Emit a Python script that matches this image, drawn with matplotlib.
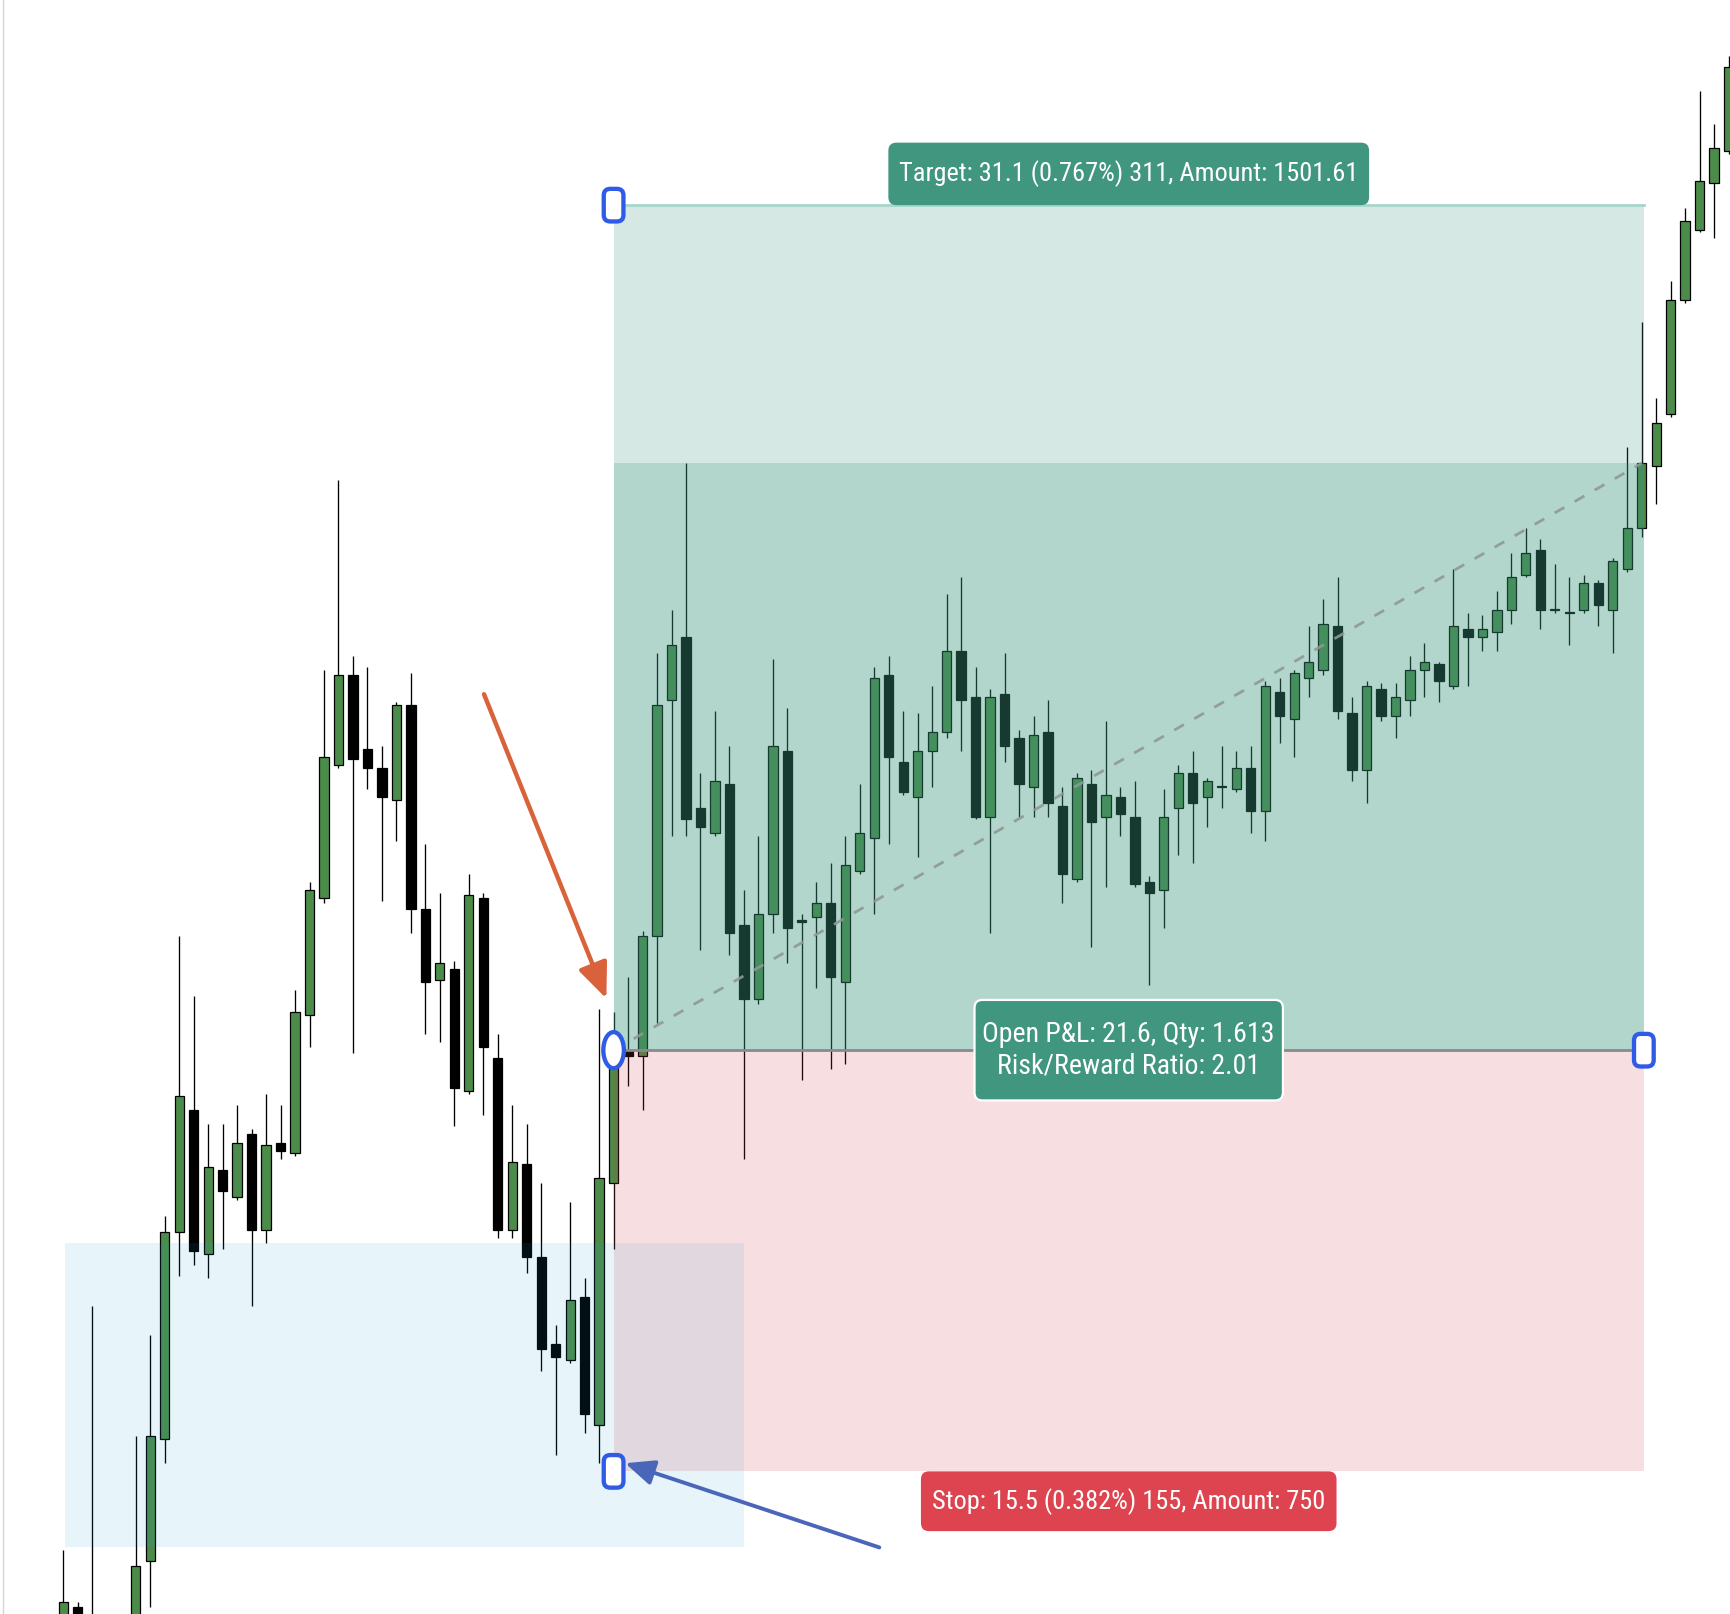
import numpy as np
import matplotlib.pyplot as plt
from matplotlib.patches import Rectangle, FancyBboxPatch, Ellipse

# ---------------- data ----------------
opens = [4033.6, 4034.5, 4032.8, 4031.5, 4032.3, 4033.2, 4036.2, 4040.7, 4048.3, 4052.8,
         4047.5, 4050.6, 4049.6, 4051.9, 4048.4, 4051.6, 4051.2, 4056.3, 4060.6, 4065.5,
         4068.8, 4066.1, 4065.4, 4064.2, 4067.7, 4060.2, 4057.6, 4058.0, 4053.5, 4060.6,
         4054.7, 4048.4, 4050.8, 4047.4, 4044.2, 4043.6, 4045.9, 4041.2, 4050.1, 4055.0,
         4054.8, 4059.2, 4067.9, 4070.2, 4063.9, 4063.0, 4064.8, 4059.6, 4056.9, 4060.0,
         4066.0, 4059.8, 4059.9, 4060.4, 4057.5, 4061.6, 4062.8, 4068.8, 4065.6, 4064.3,
         4066.0, 4066.7, 4069.7, 4068.0, 4063.6, 4068.1, 4066.5, 4064.7, 4066.7, 4064.0,
         4061.3, 4064.8, 4063.6, 4064.3, 4063.6, 4061.2, 4060.9, 4063.9, 4065.2, 4064.3,
         4064.7, 4064.6, 4065.4, 4063.8, 4068.2, 4067.2, 4068.7, 4069.0, 4070.6, 4067.4,
         4065.3, 4068.3, 4067.3, 4067.9, 4069.0, 4069.2, 4068.4, 4070.5, 4070.2, 4070.4,
         4071.2, 4072.5, 4073.4, 4071.2, 4071.1, 4071.2, 4072.2, 4071.2, 4072.7, 4074.2,
         4076.5, 4078.4, 4082.6, 4085.2, 4086.9, 4088.1]
highs = [4036.6, 4034.7, 4045.6, 4033.6, 4034.0, 4040.8, 4044.5, 4048.9, 4059.2, 4057.0,
         4052.3, 4052.3, 4053.0, 4052.1, 4053.4, 4053.0, 4057.2, 4061.2, 4069.0, 4076.0,
         4069.5, 4069.1, 4066.2, 4067.8, 4068.9, 4062.6, 4060.8, 4058.3, 4061.5, 4060.8,
         4055.6, 4053.0, 4052.3, 4050.1, 4044.9, 4049.4, 4046.6, 4056.5, 4056.4, 4057.7,
         4059.4, 4069.6, 4071.2, 4076.6, 4065.2, 4067.5, 4066.2, 4060.9, 4062.9, 4069.4,
         4067.6, 4060.0, 4061.2, 4061.9, 4062.9, 4064.8, 4069.1, 4069.5, 4067.5, 4067.4,
         4068.4, 4071.8, 4072.4, 4069.1, 4068.3, 4069.6, 4066.8, 4067.3, 4067.9, 4064.7,
         4065.2, 4065.3, 4067.1, 4064.7, 4064.9, 4061.4, 4064.6, 4065.5, 4066.0, 4065.0,
         4066.2, 4066.0, 4066.2, 4068.6, 4068.7, 4069.0, 4070.6, 4071.6, 4072.4, 4068.0,
         4068.6, 4068.5, 4068.5, 4069.5, 4070.0, 4069.3, 4072.7, 4071.1, 4071.0, 4071.9,
         4073.3, 4074.2, 4073.8, 4072.9, 4072.4, 4072.5, 4072.3, 4073.1, 4077.2, 4081.8,
         4079.0, 4083.3, 4086.0, 4090.3, 4089.1, 4091.6]
lows = [4033.2, 4033.8, 4032.3, 4031.1, 4031.9, 4032.8, 4034.5, 4039.8, 4046.7, 4047.1,
        4046.6, 4047.7, 4049.5, 4045.6, 4047.9, 4051.0, 4051.1, 4055.1, 4060.4, 4065.4,
        4054.9, 4064.6, 4060.5, 4062.7, 4059.3, 4055.6, 4055.3, 4052.2, 4053.4, 4052.6,
        4048.1, 4048.1, 4046.8, 4043.2, 4040.1, 4043.5, 4040.9, 4039.8, 4047.7, 4053.7,
        4052.8, 4056.0, 4062.9, 4062.9, 4058.7, 4062.9, 4058.5, 4051.0, 4056.7, 4059.3,
        4058.2, 4053.9, 4057.3, 4054.3, 4054.5, 4061.5, 4060.0, 4062.6, 4064.4, 4062.1,
        4064.7, 4066.5, 4066.0, 4063.5, 4059.3, 4065.6, 4063.6, 4063.6, 4063.6, 4060.4,
        4061.2, 4058.8, 4061.0, 4062.9, 4061.0, 4057.4, 4059.5, 4062.2, 4061.9, 4063.2,
        4063.9, 4064.5, 4063.0, 4062.7, 4066.3, 4065.8, 4068.0, 4068.8, 4067.2, 4064.9,
        4064.1, 4067.1, 4066.5, 4067.3, 4068.0, 4067.8, 4068.3, 4068.4, 4069.7, 4069.7,
        4070.7, 4072.4, 4070.5, 4071.1, 4069.9, 4071.1, 4070.6, 4069.6, 4072.6, 4073.9,
        4075.1, 4078.3, 4082.5, 4085.1, 4084.9, 4088.0]
closes = [4034.7, 4034.3, 4033.8, 4032.3, 4033.2, 4036.0, 4040.8, 4048.3, 4053.3, 4047.6,
          4050.7, 4049.8, 4051.6, 4048.4, 4051.5, 4051.3, 4056.4, 4060.9, 4065.8, 4068.8,
          4065.7, 4065.4, 4064.3, 4067.7, 4060.2, 4057.5, 4058.2, 4053.6, 4060.7, 4055.1,
          4048.4, 4050.9, 4047.4, 4044.0, 4043.7, 4045.8, 4041.6, 4050.3, 4055.0, 4054.8,
          4059.2, 4067.7, 4069.9, 4063.5, 4063.2, 4064.9, 4059.3, 4056.9, 4060.0, 4066.2,
          4059.5, 4059.7, 4060.4, 4057.7, 4061.8, 4063.0, 4068.7, 4065.8, 4064.5, 4066.0,
          4066.7, 4069.7, 4067.9, 4063.6, 4068.0, 4066.2, 4064.8, 4066.6, 4064.1, 4061.5,
          4065.0, 4063.4, 4064.4, 4063.7, 4061.1, 4060.8, 4063.6, 4065.2, 4064.1, 4064.9,
          4064.7, 4065.4, 4063.8, 4068.4, 4067.3, 4068.9, 4069.3, 4070.7, 4067.5, 4065.3,
          4068.4, 4067.3, 4068.0, 4069.0, 4069.3, 4068.6, 4070.6, 4070.2, 4070.5, 4071.2,
          4072.4, 4073.3, 4071.2, 4071.2, 4071.1, 4072.2, 4071.4, 4073.0, 4074.2, 4076.6,
          4078.1, 4082.6, 4085.5, 4087.0, 4088.2, 4091.2]

# long position tool
ENTRY = 4055.0
TARGET = 4086.1
STOP = 4039.5
ENTRY_BAR = 38
END_BAR = 109
LAST = closes[END_BAR]

target_text = "Target: 31.1 (0.767%) 311, Amount: 1501.61"
pnl_text = "Open P&L: 21.6, Qty: 1.613\nRisk/Reward Ratio: 2.01"
stop_text = "Stop: 15.5 (0.382%) 155, Amount: 750"

# light blue demand box (bar0, bar1, low, high)
zone_bars = (0.1, 47.0)
zone_prices = (4036.7, 4047.9)

# hand drawn arrows (bar, price)
red_arrow = ((29.05, 4068.1), (37.5, 4056.9))
blue_arrow = ((56.35, 4036.7), (38.8, 4039.8))

#===================================================#
fig = plt.figure(figsize=(17.3, 16.14), dpi=100)
ax = fig.add_axes([0, 0, 1, 1])
ax.set_xlim(-4.376, 115.1)
ax.set_ylim(4034.25, 4093.65)
ax.axis('off')

x = np.arange(len(opens))
o = np.array(opens); h = np.array(highs); l = np.array(lows); c = np.array(closes)
up = c > o
body_lo = np.minimum(o, c)
body_h = np.maximum(np.abs(c - o), 0.04)

ax.vlines(x, l, h, color='black', lw=0.95, zorder=1)
ax.bar(x[up], body_h[up], bottom=body_lo[up], width=0.64, color='#4c8c4a',
       edgecolor='black', lw=0.9, zorder=2)
ax.bar(x[~up], body_h[~up], bottom=body_lo[~up], width=0.64, color='black',
       edgecolor='black', lw=0.9, zorder=2)

# position zones drawn over the candles
x1 = END_BAR + 0.15
w = x1 - ENTRY_BAR
ax.add_patch(Rectangle((ENTRY_BAR, LAST), w, TARGET - LAST, color='#39967c', alpha=0.21, lw=0, zorder=3))
ax.add_patch(Rectangle((ENTRY_BAR, ENTRY), w, LAST - ENTRY, color='#39967c', alpha=0.388, lw=0, zorder=3))
ax.add_patch(Rectangle((ENTRY_BAR, STOP), w, ENTRY - STOP, color='#d43743', alpha=0.165, lw=0, zorder=3))
ax.add_patch(Rectangle((zone_bars[0], zone_prices[0]), zone_bars[1] - zone_bars[0],
                       zone_prices[1] - zone_prices[0], color='#199bd7', alpha=0.1, lw=0, zorder=3))

ax.plot([ENTRY_BAR, x1], [TARGET, TARGET], color='#a8d5cd', lw=2, zorder=4)
ax.plot([ENTRY_BAR, x1], [ENTRY, ENTRY], color='#8a8a8a', lw=2, zorder=4)
ax.plot([ENTRY_BAR, END_BAR], [ENTRY, LAST], color='#8f9896', lw=2, dashes=(4.0, 4.3),
        alpha=0.9, zorder=4)

# handles
asp = 0.533
for hx, hy in [(ENTRY_BAR, TARGET), (ENTRY_BAR, STOP), (x1, ENTRY)]:
    ax.add_patch(FancyBboxPatch((hx - 0.68, hy - 0.6), 1.36, 1.2,
                                boxstyle="round,pad=0,rounding_size=0.45", mutation_aspect=asp,
                                fc='white', ec='#2f5be6', lw=3.1, zorder=6))
ax.add_patch(Ellipse((ENTRY_BAR, ENTRY), 1.42, 1.33, fc='white', ec='#2f5be6', lw=3.1, zorder=6))

# labels
mid = (ENTRY_BAR + x1) / 2
fnt = dict(family=['Liberation Sans Narrow', 'Roboto Condensed', 'DejaVu Sans'],
           fontstretch='condensed', color='white', ha='center', va='center', zorder=8)
ax.add_patch(FancyBboxPatch((mid - 16.6, TARGET), 33.2, 2.3, boxstyle="round,pad=0,rounding_size=0.55",
                            mutation_aspect=asp, fc='#41967f', ec='none', zorder=7))
t1 = ax.text(mid, TARGET + 1.15, target_text, fontsize=20, **fnt)
ax.add_patch(FancyBboxPatch((mid - 10.65, ENTRY - 1.85), 21.3, 3.7, boxstyle="round,pad=0,rounding_size=0.55",
                            mutation_aspect=asp, fc='#41967f', ec='white', lw=1.6, zorder=7))
t2 = ax.text(mid, ENTRY, pnl_text, fontsize=20, linespacing=1.2, **fnt)
ax.add_patch(FancyBboxPatch((mid - 14.35, STOP - 2.2), 28.7, 2.2, boxstyle="round,pad=0,rounding_size=0.55",
                            mutation_aspect=asp, fc='#de444f', ec='none', zorder=7))
t3 = ax.text(mid, STOP - 1.1, stop_text, fontsize=20, **fnt)

# arrows
ax.annotate('', xy=red_arrow[1], xytext=red_arrow[0], zorder=9,
            arrowprops=dict(arrowstyle='-|>,head_length=0.9,head_width=0.38', lw=3.2,
                            color='#da623a', shrinkA=0, shrinkB=0, mutation_scale=24))
ax.annotate('', xy=blue_arrow[1], xytext=blue_arrow[0], zorder=9,
            arrowprops=dict(arrowstyle='-|>,head_length=0.8,head_width=0.35', lw=2.8,
                            color='#4a66b8', shrinkA=0, shrinkB=0, mutation_scale=22))

fig.add_artist(plt.Line2D([0.0017, 0.0017], [0, 1], transform=fig.transFigure, color='#d5d5d5', lw=1))

# fit label text widths to the boxes
fig.canvas.draw()
r = fig.canvas.get_renderer()
for t, px in [(t1, 460), (t2, 292), (t3, 393)]:
    t.set_fontsize(t.get_fontsize() * px / t.get_window_extent(r).width)

fig.savefig('out.png', dpi=100)
